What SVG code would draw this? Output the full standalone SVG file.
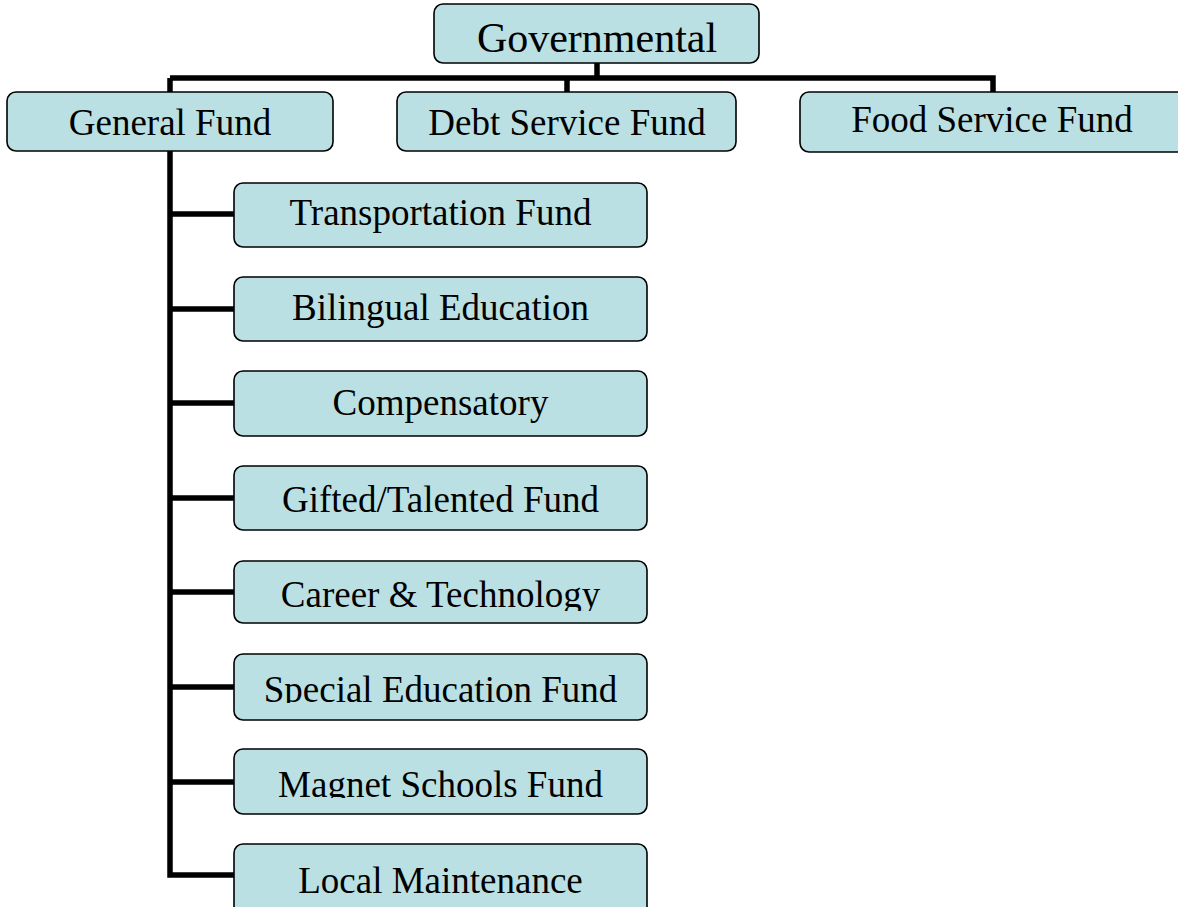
<svg xmlns="http://www.w3.org/2000/svg" width="1178" height="907" viewBox="0 0 1178 907">
<style>
.box{fill:#BAE0E3;stroke:#000;stroke-width:1.6}
.lbl{font-family:"Liberation Serif","Times New Roman",serif;font-size:37px;fill:#000;text-anchor:middle}
.con{stroke:#000;stroke-width:5.5;fill:none;stroke-linecap:butt;stroke-linejoin:miter}
</style>
<defs>
<clipPath id="c5"><rect x="234" y="561" width="413" height="50"/></clipPath>
<clipPath id="c6"><rect x="234" y="654" width="413" height="49"/></clipPath>
<clipPath id="c7"><rect x="234" y="749" width="413" height="49"/></clipPath>
</defs>
<rect width="1178" height="907" fill="#fff"/>
<g id="connectors">
<path class="con" d="M597 63V78"/>
<path class="con" d="M170 78H993V92"/>
<path class="con" d="M567 78V92"/>
<path class="con" d="M170 78V875H234"/>
<path class="con" d="M170 214H234M170 309H234M170 403H234M170 498H234M170 592H234M170 687H234M170 782H234"/>
</g>
<g id="governmental">
<rect class="box" x="434" y="4" width="325" height="59" rx="9"/>
<text class="lbl" x="597" y="52" style="font-size:42px">Governmental</text>
</g>
<g id="general-fund">
<rect class="box" x="7" y="92" width="326" height="59" rx="9"/>
<text class="lbl" x="170" y="135">General Fund</text>
</g>
<g id="debt-service-fund">
<rect class="box" x="397" y="92" width="339" height="59" rx="9"/>
<text class="lbl" x="567" y="135">Debt Service Fund</text>
</g>
<g id="food-service-fund">
<rect class="box" x="800" y="92" width="386" height="60" rx="9"/>
<text class="lbl" x="992" y="132">Food Service Fund</text>
</g>
<g id="transportation-fund">
<rect class="box" x="234" y="183" width="413" height="64" rx="9"/>
<text class="lbl" x="440.5" y="225">Transportation Fund</text>
</g>
<g id="bilingual-education">
<rect class="box" x="234" y="277" width="413" height="64" rx="9"/>
<text class="lbl" x="440.5" y="320">Bilingual Education</text>
</g>
<g id="compensatory">
<rect class="box" x="234" y="371" width="413" height="65" rx="9"/>
<text class="lbl" x="440.5" y="415">Compensatory</text>
</g>
<g id="gifted-talented-fund">
<rect class="box" x="234" y="466" width="413" height="64" rx="9"/>
<text class="lbl" x="440.5" y="512">Gifted/Talented Fund</text>
</g>
<g id="career-technology">
<rect class="box" x="234" y="561" width="413" height="62" rx="9"/>
<text class="lbl" x="440.5" y="607" clip-path="url(#c5)">Career &amp; Technology</text>
</g>
<g id="special-education-fund">
<rect class="box" x="234" y="654" width="413" height="66" rx="9"/>
<text class="lbl" x="440.5" y="702" clip-path="url(#c6)">Special Education Fund</text>
</g>
<g id="magnet-schools-fund">
<rect class="box" x="234" y="749" width="413" height="65" rx="9"/>
<text class="lbl" x="440.5" y="797" clip-path="url(#c7)">Magnet Schools Fund</text>
</g>
<g id="local-maintenance">
<rect class="box" x="234" y="844" width="413" height="75" rx="9"/>
<text class="lbl" x="440.5" y="893">Local Maintenance</text>
</g>
</svg>
